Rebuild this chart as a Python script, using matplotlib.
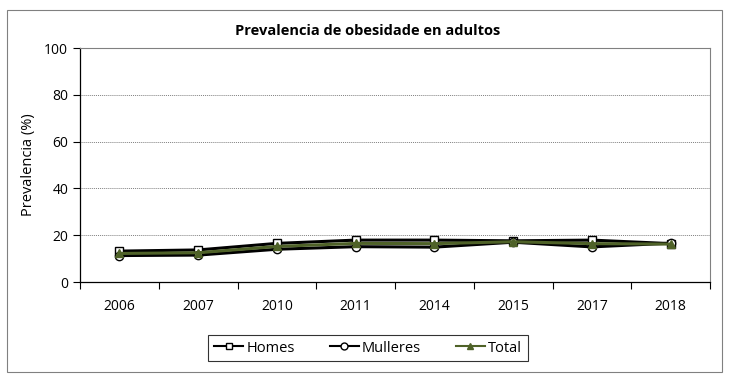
import numpy as np
import matplotlib
matplotlib.use("Agg")
import matplotlib.pyplot as plt
from matplotlib.patches import Rectangle

years = ["2006", "2007", "2010", "2011", "2014", "2015", "2017", "2018"]
homes = [13.2, 13.7, 16.5, 17.9, 17.9, 17.6, 17.9, 16.4]
mulleres = [11.3, 11.5, 14.0, 15.1, 14.9, 17.0, 15.0, 16.6]
total = [12.2, 12.5, 15.2, 16.5, 16.4, 17.2, 16.4, 16.2]

plt.rcParams["font.family"] = ["Open Sans", "DejaVu Sans"]

fig = plt.figure(figsize=(7.37, 3.86), dpi=100)
# outer chart border
fig.patches.append(Rectangle((7 / 737, 1 - 372 / 386), 715 / 737, 362 / 386,
                             transform=fig.transFigure, fill=False,
                             edgecolor="#808080", linewidth=0.8))

ax = fig.add_axes([80 / 737, 1 - 282 / 386, 630 / 737, 234 / 386])
x = np.arange(len(years))

ax.plot(x, homes, color="black", lw=2.2, marker="s", ms=6,
        mfc="white", mec="black", mew=1.0, label="Homes", zorder=3)
ax.plot(x, mulleres, color="black", lw=2.2, marker="o", ms=6,
        mfc="white", mec="black", mew=1.0, label="Mulleres", zorder=3)
ax.plot(x, total, color="#4f6228", lw=2.2, marker="^", ms=6,
        mfc="#4f6228", mec="#4f6228", label="Total", zorder=4)

ax.set_xlim(-0.5, len(years) - 0.5)
ax.set_ylim(0, 100)
ax.set_yticks(np.arange(0, 101, 20))
ax.set_xticks(x)
ax.set_xticklabels(years)
ax.set_xticks(np.arange(-0.5, len(years), 1), minor=True)
ax.tick_params(axis="x", which="major", length=0, pad=12, labelsize=10)
ax.tick_params(axis="x", which="minor", length=5, direction="out", width=0.8)
ax.tick_params(axis="y", length=5, direction="out", width=0.8, labelsize=10)
ax.yaxis.grid(True, color="#808080", linestyle=(0, (1, 1)), linewidth=0.7)
ax.set_axisbelow(True)

for s in ["top", "right"]:
    ax.spines[s].set_color("#808080")
    ax.spines[s].set_linewidth(0.8)
for s in ["left", "bottom"]:
    ax.spines[s].set_color("black")
    ax.spines[s].set_linewidth(0.9)

ax.set_ylabel("Prevalencia (%)", fontsize=10.5, labelpad=6)
fig.text(368 / 737, 1 - 31 / 386, "Prevalencia de obesidade en adultos",
         ha="center", va="center", fontsize=10.5, fontweight="bold")

leg = fig.legend(loc="center", bbox_to_anchor=(368 / 737, 1 - 348 / 386),
                 ncol=3, frameon=True, fancybox=False, shadow=False,
                 fontsize=10.5, handlelength=2.0, columnspacing=2.4,
                 handletextpad=0.2, borderpad=0.4, borderaxespad=0)
leg.get_frame().set_edgecolor("black")
leg.get_frame().set_linewidth(0.8)
for ln in leg.get_lines():
    ln.set_linewidth(1.5)
    ln.set_markersize(5)

fig.savefig("out.png", dpi=100)
